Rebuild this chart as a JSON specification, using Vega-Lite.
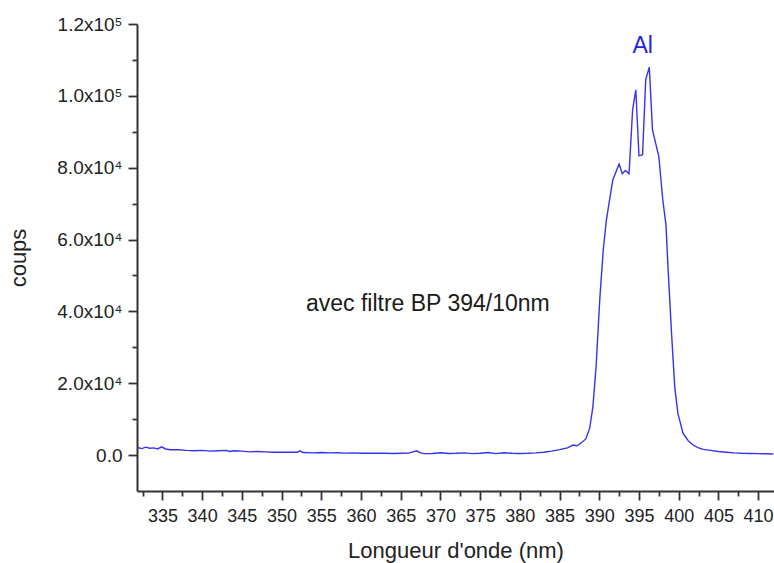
{
  "$schema": "https://vega.github.io/schema/vega-lite/v6.json",
  "width": 637,
  "height": 467,
  "autosize": {"type": "none"},
  "padding": {"left": 137, "top": 24, "right": 0, "bottom": 72},
  "background": "white",
  "config": {
    "view": {"stroke": null},
    "font": "Liberation Sans",
    "axis": {
      "domainColor": "#333333",
      "domainWidth": 2,
      "tickColor": "#333333",
      "tickWidth": 1.8,
      "labelColor": "#222222",
      "titleColor": "#222222",
      "labelFont": "Liberation Sans",
      "titleFont": "Liberation Sans",
      "titleFontWeight": "normal",
      "grid": false
    }
  },
  "resolve": {"axis": {"x": "independent", "y": "independent"}},
  "datasets": {
    "spectrum": [
      {"nm": 331.9, "coups": 2100}, {"nm": 332.4, "coups": 1800}, {"nm": 332.9, "coups": 2200},
      {"nm": 333.4, "coups": 1900}, {"nm": 333.9, "coups": 2000}, {"nm": 334.4, "coups": 1700},
      {"nm": 334.9, "coups": 2300}, {"nm": 335.4, "coups": 1700}, {"nm": 336, "coups": 1500},
      {"nm": 337, "coups": 1500}, {"nm": 338, "coups": 1300}, {"nm": 339, "coups": 1200},
      {"nm": 340, "coups": 1300}, {"nm": 341, "coups": 1100}, {"nm": 342, "coups": 1200},
      {"nm": 343, "coups": 1300}, {"nm": 343.5, "coups": 1000}, {"nm": 344, "coups": 1200},
      {"nm": 345, "coups": 1100}, {"nm": 346, "coups": 900}, {"nm": 347, "coups": 1000},
      {"nm": 348, "coups": 900}, {"nm": 349, "coups": 800}, {"nm": 350, "coups": 800},
      {"nm": 351, "coups": 800}, {"nm": 352, "coups": 800}, {"nm": 352.3, "coups": 1200},
      {"nm": 352.7, "coups": 700}, {"nm": 354, "coups": 600}, {"nm": 355, "coups": 700},
      {"nm": 356, "coups": 600}, {"nm": 357, "coups": 650}, {"nm": 358, "coups": 550},
      {"nm": 359, "coups": 600}, {"nm": 360, "coups": 500}, {"nm": 361, "coups": 550},
      {"nm": 362, "coups": 500}, {"nm": 363, "coups": 500}, {"nm": 364, "coups": 450},
      {"nm": 365, "coups": 500}, {"nm": 366, "coups": 550}, {"nm": 367, "coups": 1200},
      {"nm": 367.5, "coups": 600}, {"nm": 368, "coups": 400}, {"nm": 369, "coups": 450},
      {"nm": 370, "coups": 650}, {"nm": 371, "coups": 450}, {"nm": 372, "coups": 500},
      {"nm": 373, "coups": 600}, {"nm": 374, "coups": 400}, {"nm": 375, "coups": 500},
      {"nm": 376, "coups": 700}, {"nm": 377, "coups": 400}, {"nm": 378, "coups": 650},
      {"nm": 379, "coups": 500}, {"nm": 380, "coups": 450}, {"nm": 381, "coups": 500},
      {"nm": 382, "coups": 600}, {"nm": 383, "coups": 800}, {"nm": 384, "coups": 1100},
      {"nm": 385, "coups": 1500}, {"nm": 386, "coups": 2000}, {"nm": 386.7, "coups": 2800},
      {"nm": 387.2, "coups": 2600}, {"nm": 387.8, "coups": 3500}, {"nm": 388.3, "coups": 4500},
      {"nm": 388.8, "coups": 7500}, {"nm": 389.2, "coups": 13500}, {"nm": 389.6, "coups": 24600},
      {"nm": 390.06, "coups": 43200}, {"nm": 390.5, "coups": 57100}, {"nm": 390.9, "coups": 65500},
      {"nm": 391.7, "coups": 76600}, {"nm": 392.5, "coups": 81000}, {"nm": 392.9, "coups": 78300},
      {"nm": 393.3, "coups": 79200}, {"nm": 393.75, "coups": 78300}, {"nm": 394.2, "coups": 96100},
      {"nm": 394.6, "coups": 101700}, {"nm": 395.0, "coups": 83300}, {"nm": 395.45, "coups": 83600},
      {"nm": 395.85, "coups": 104500}, {"nm": 396.3, "coups": 108000}, {"nm": 396.7, "coups": 90500},
      {"nm": 397.5, "coups": 83100}, {"nm": 398.0, "coups": 71000}, {"nm": 398.4, "coups": 64000},
      {"nm": 398.65, "coups": 52400}, {"nm": 399.1, "coups": 33900}, {"nm": 399.5, "coups": 19000},
      {"nm": 399.9, "coups": 11600}, {"nm": 400.55, "coups": 6000}, {"nm": 401.2, "coups": 4000},
      {"nm": 401.8, "coups": 2800}, {"nm": 402.5, "coups": 2000}, {"nm": 403.1, "coups": 1600},
      {"nm": 404, "coups": 1300}, {"nm": 405, "coups": 1000}, {"nm": 406, "coups": 800},
      {"nm": 407, "coups": 600}, {"nm": 408, "coups": 500}, {"nm": 409, "coups": 450},
      {"nm": 410, "coups": 400}, {"nm": 411, "coups": 350}, {"nm": 411.9, "coups": 300}
    ]
  },
  "layer": [
    {
      "data": {"name": "spectrum"},
      "mark": {"type": "line", "color": "#3434f0", "strokeWidth": 1.4, "clip": true},
      "encoding": {
        "x": {
          "field": "nm", "type": "quantitative",
          "scale": {"domain": [331.8, 412], "nice": false, "zero": false},
          "axis": {
            "orient": "bottom",
            "title": "Longueur d'onde (nm)",
            "titleFontSize": 22,
            "titlePadding": 15,
            "values": [335, 340, 345, 350, 355, 360, 365, 370, 375, 380, 385, 390, 395, 400, 405, 410],
            "format": "d",
            "labelFontSize": 18,
            "labelPadding": 7,
            "tickSize": 9,
            "labelFlush": false,
            "labelOverlap": false
          }
        },
        "y": {
          "field": "coups", "type": "quantitative",
          "scale": {"domain": [-10000, 120000], "nice": false, "zero": false},
          "axis": {
            "orient": "left",
            "title": "coups",
            "titleFontSize": 22,
            "titlePadding": 26,
            "values": [0, 20000, 40000, 60000, 80000, 100000, 120000],
            "labelExpr": "datum.value === 0 ? '0.0' : (datum.value >= 100000 ? format(datum.value / 100000, '.1f') + 'x10⁵' : format(datum.value / 10000, '.1f') + 'x10⁴')",
            "labelFontSize": 19,
            "labelPadding": 6,
            "tickSize": 9,
            "labelOverlap": false,
            "labelFlush": false
          }
        }
      }
    },
    {
      "data": {"values": [{"nm": 353.07, "coups": 40000, "text": "avec filtre BP 394/10nm"}]},
      "mark": {"type": "text", "align": "left", "baseline": "alphabetic", "font": "Liberation Sans", "fontSize": 23, "color": "#1a1a1a"},
      "encoding": {
        "x": {
          "field": "nm", "type": "quantitative",
          "axis": {
            "orient": "bottom",
            "title": null,
            "values": [332.5, 337.5, 342.5, 347.5, 352.5, 357.5, 362.5, 367.5, 372.5, 377.5, 382.5, 387.5, 392.5, 397.5, 402.5, 407.5],
            "labels": false,
            "domain": false,
            "tickSize": 5
          }
        },
        "y": {
          "field": "coups", "type": "quantitative",
          "axis": {
            "orient": "left",
            "title": null,
            "values": [10000, 30000, 50000, 70000, 90000, 110000],
            "labels": false,
            "domain": false,
            "tickSize": 5
          }
        },
        "text": {"field": "text"}
      }
    },
    {
      "data": {"values": [{"nm": 395.47, "coups": 111900, "text": "Al"}]},
      "mark": {"type": "text", "align": "center", "baseline": "alphabetic", "font": "Liberation Sans", "fontSize": 23, "color": "#1f1fe8"},
      "encoding": {
        "x": {"field": "nm", "type": "quantitative", "axis": null},
        "y": {"field": "coups", "type": "quantitative", "axis": null},
        "text": {"field": "text"}
      }
    }
  ]
}
